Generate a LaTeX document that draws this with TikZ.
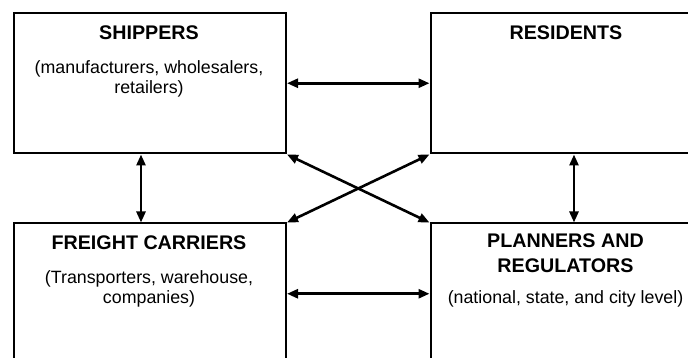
\documentclass[tikz,border=0pt]{standalone}
\usepackage{fontspec}
\setmainfont{Liberation Sans}
\usetikzlibrary{arrows.meta}
\begin{document}
\begin{tikzpicture}[x=1pt,y=-1pt,
  box/.style={draw,line width=2pt,minimum width=272pt,minimum height=140.5pt,
    anchor=north west,inner sep=0pt},
  title/.style={font=\fontsize{19.7}{25}\selectfont\bfseries,align=center,
    anchor=base,inner sep=0pt},
  sub/.style={font=\fontsize{17.8}{19.5}\selectfont,align=center,
    anchor=base,inner sep=0pt},
  link/.style={line width=2.6pt,
    {Triangle[length=11pt,width=9pt]}-{Triangle[length=11pt,width=9pt]}}]
\useasboundingbox (0,0) rectangle (688,358);
\clip (0,0) rectangle (688,358);

% the four stakeholder boxes
\node[box] (ship) at (13,12) {};
\node[box] (res)  at (429.5,12) {};
\node[box] (carr) at (13,222.5) {};
\node[box] (plan) at (429.5,222.5) {};

% box texts (base anchor sits on the last line)
\node[title] (shipT) at (149,39.3) {SHIPPERS};
\node[sub]   (shipS) at (149,93.3) {(manufacturers, wholesalers,\\retailers)};
\node[title] (resT)  at (566,39.3) {RESIDENTS};
\node[title] (carrT) at (149,249.3) {FREIGHT CARRIERS};
\node[sub]   (carrS) at (149,303) {(Transporters, warehouse,\\companies)};
\node[title] (planT) at (565.5,272.7) {PLANNERS AND\\REGULATORS};
\node[sub]   (planS) at (565.5,303.5) {(national, state, and city level)};

% two-way relations
\draw[link] (ship.east) -- (res.west);
\draw[link] (carr.east) -- (plan.west);
\draw[link] ([xshift=-9pt]ship.south) -- ([xshift=-9pt]carr.north);
\draw[link] ([xshift=7.5pt]res.south) -- ([xshift=7.5pt]plan.north);
\draw[link] (ship.south east) -- (plan.north west);
\draw[link] (res.south west) -- (carr.north east);
\end{tikzpicture}
\end{document}
